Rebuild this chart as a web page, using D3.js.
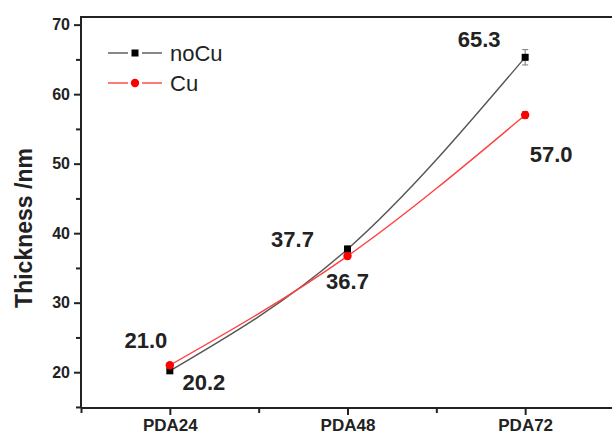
<!DOCTYPE html>
<html>
<head>
<meta charset="utf-8">
<script src="https://cdn.jsdelivr.net/npm/d3@7"></script>
<style>
  body { margin: 0; background: #fff; }
  text { font-family: "Liberation Sans", Arial, sans-serif; }
</style>
</head>
<body>
<div id="chart"></div>
<script>
// data
var categories = ["PDA24", "PDA48", "PDA72"];
var noCuValues = [20.2, 37.7, 65.3];
var noCuErrors = [0.4, 0.5, 1.1];
var cuValues = [21.0, 36.7, 57.0];
var cuErrors = [0.3, 0.4, 0.5];
var yMajorTicks = [20, 30, 40, 50, 60, 70];
var yMinorTicks = [15, 25, 35, 45, 55, 65];

var svgWidth = 612;
var svgHeight = 435;

var margin = { top: 17, right: -2, bottom: 27, left: 81 };
var width = svgWidth - margin.left - margin.right;
var height = svgHeight - margin.top - margin.bottom;

var svg = d3.select("#chart")
  .append("svg")
  .attr("width", svgWidth)
  .attr("height", svgHeight);

var chartGroup = svg.append("g")
  .attr("transform", `translate(${margin.left}, ${margin.top})`);

// x is category index 1..3, with half a step either side
var xScale = d3.scaleLinear()
  .domain([0.5, 3.5])
  .range([0, width]);

var yScale = d3.scaleLinear()
  .domain([14.85, 71.1])
  .range([height, 0]);

// frame (top + left + bottom)
chartGroup.append("path")
  .attr("d", `M0,${height}V0H${width + 5}`)
  .attr("fill", "none")
  .attr("stroke", "#222")
  .attr("stroke-width", 2);

// bottom axis
var bottomAxis = d3.axisBottom(xScale)
  .tickValues([1, 2, 3])
  .tickFormat(d => categories[d - 1])
  .tickSize(7)
  .tickPadding(4);

var xAxis = chartGroup.append("g")
  .attr("transform", `translate(0, ${height})`)
  .call(bottomAxis);

var xMinor = d3.axisBottom(xScale)
  .tickValues([0.5, 1.5, 2.5])
  .tickFormat("")
  .tickSize(5);

chartGroup.append("g")
  .attr("transform", `translate(0, ${height})`)
  .call(xMinor)
  .select(".domain").remove();

// left axis
var leftAxis = d3.axisLeft(yScale)
  .tickValues(yMajorTicks)
  .tickSize(7)
  .tickPadding(4);

var yAxis = chartGroup.append("g")
  .call(leftAxis);

var yMinor = d3.axisLeft(yScale)
  .tickValues(yMinorTicks)
  .tickFormat("")
  .tickSize(5);

chartGroup.append("g")
  .call(yMinor)
  .select(".domain").remove();

chartGroup.selectAll(".domain")
  .attr("stroke", "#222")
  .attr("stroke-width", 2);
xAxis.select(".domain").attr("d", `M0,0H${width + 5}`);
yAxis.select(".domain").attr("d", `M0,${height}V0`);

chartGroup.selectAll(".tick line")
  .attr("stroke", "#222")
  .attr("stroke-width", 2);

xAxis.selectAll(".tick text")
  .attr("font-size", "17px")
  .attr("font-weight", "bold")
  .attr("fill", "#222");

yAxis.selectAll(".tick text")
  .attr("font-size", "16px")
  .attr("font-weight", "bold")
  .attr("fill", "#222");

// y title
svg.append("text")
  .attr("transform", "rotate(-90)")
  .attr("x", -228)
  .attr("y", 32)
  .attr("text-anchor", "middle")
  .attr("font-size", "23px")
  .attr("font-weight", "bold")
  .attr("fill", "#222")
  .text("Thickness /nm");

// series
var series = [
  { name: "noCu", values: noCuValues, errors: noCuErrors, line: "#555", marker: "#000", shape: "square" },
  { name: "Cu", values: cuValues, errors: cuErrors, line: "#ff4040", marker: "#ff0000", shape: "circle" }
];

var lineGen = d3.line()
  .x((d, i) => xScale(i + 1))
  .y(d => yScale(d))
  .curve(d3.curveNatural);

series.forEach(function(s) {
  chartGroup.append("path")
    .datum(s.values)
    .attr("d", lineGen)
    .attr("fill", "none")
    .attr("stroke", s.line)
    .attr("stroke-width", 1.4);

  // error bars
  var eb = chartGroup.append("g").selectAll("g")
    .data(s.values)
    .enter()
    .append("g")
    .attr("stroke", "#777")
    .attr("stroke-width", 1);

  eb.append("line")
    .attr("x1", (d, i) => xScale(i + 1))
    .attr("x2", (d, i) => xScale(i + 1))
    .attr("y1", (d, i) => yScale(d - s.errors[i]))
    .attr("y2", (d, i) => yScale(d + s.errors[i]));
  eb.append("line")
    .attr("x1", (d, i) => xScale(i + 1) - 3)
    .attr("x2", (d, i) => xScale(i + 1) + 3)
    .attr("y1", (d, i) => yScale(d + s.errors[i]))
    .attr("y2", (d, i) => yScale(d + s.errors[i]));
  eb.append("line")
    .attr("x1", (d, i) => xScale(i + 1) - 3)
    .attr("x2", (d, i) => xScale(i + 1) + 3)
    .attr("y1", (d, i) => yScale(d - s.errors[i]))
    .attr("y2", (d, i) => yScale(d - s.errors[i]));

  if (s.shape === "square") {
    chartGroup.append("g").selectAll("rect")
      .data(s.values)
      .enter()
      .append("rect")
      .attr("x", (d, i) => xScale(i + 1) - 3.5)
      .attr("y", d => yScale(d) - 3.5)
      .attr("width", 7)
      .attr("height", 7)
      .attr("fill", s.marker);
  } else {
    chartGroup.append("g").selectAll("circle")
      .data(s.values)
      .enter()
      .append("circle")
      .attr("cx", (d, i) => xScale(i + 1))
      .attr("cy", d => yScale(d))
      .attr("r", 4.2)
      .attr("fill", s.marker);
  }
});

// value labels: [series, index, dx, dy]
var labelSpots = [
  { s: 0, i: 0, dx: 34, dy: 19 },
  { s: 1, i: 0, dx: -24, dy: -17 },
  { s: 0, i: 1, dx: -55, dy: -2 },
  { s: 1, i: 1, dx: 0, dy: 33 },
  { s: 0, i: 2, dx: -46, dy: -10 },
  { s: 1, i: 2, dx: 26, dy: 47 }
];

chartGroup.selectAll(".valueLabel")
  .data(labelSpots)
  .enter()
  .append("text")
  .attr("class", "valueLabel")
  .attr("x", d => xScale(d.i + 1) + d.dx)
  .attr("y", d => yScale(series[d.s].values[d.i]) + d.dy)
  .attr("text-anchor", "middle")
  .attr("font-size", "22px")
  .attr("font-weight", "bold")
  .attr("fill", "#222")
  .text(d => series[d.s].values[d.i].toFixed(1));

// legend
var legend = svg.append("g");
series.forEach(function(s, k) {
  var ly = 53 + k * 30;
  legend.append("line")
    .attr("x1", 108).attr("x2", 128)
    .attr("y1", ly).attr("y2", ly)
    .attr("stroke", s.line).attr("stroke-width", 1.4);
  legend.append("line")
    .attr("x1", 142).attr("x2", 162)
    .attr("y1", ly).attr("y2", ly)
    .attr("stroke", s.line).attr("stroke-width", 1.4);
  if (s.shape === "square") {
    legend.append("rect")
      .attr("x", 135 - 3.5).attr("y", ly - 3.5)
      .attr("width", 7).attr("height", 7)
      .attr("fill", s.marker);
  } else {
    legend.append("circle")
      .attr("cx", 135).attr("cy", ly)
      .attr("r", 4.2)
      .attr("fill", s.marker);
  }
  legend.append("text")
    .attr("x", 170)
    .attr("y", ly + 7.5)
    .attr("font-size", "22px")
    .attr("fill", "#222")
    .text(s.name);
});
</script>
</body>
</html>
